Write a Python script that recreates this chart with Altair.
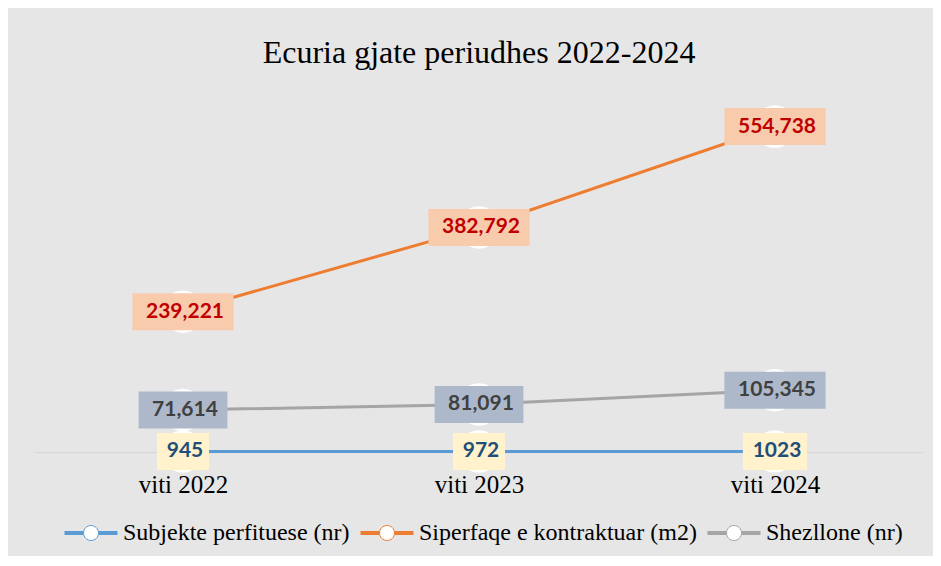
import altair as alt
import pandas as pd

years = ["viti 2022", "viti 2023", "viti 2024"]
series_names = ["Subjekte perfituese (nr)", "Siperfaqe e kontraktuar (m2)", "Shezllone (nr)"]
subjekte = [945, 972, 1023]
siperfaqe = [239221, 382792, 554738]
shezllone = [71614, 81091, 105345]
use_thousands = [False, True, True]

line_colors = ["#5b9bd5", "#ed7d31", "#a5a5a5"]
box_colors = ["#fff2cc", "#f8cbad", "#adb9ca"]
text_colors = ["#1f4e79", "#c00000", "#404040"]

rows = []
for name, vals, th in zip(series_names, [subjekte, siperfaqe, shezllone], use_thousands):
    for yr, v in zip(years, vals):
        rows.append({"year": yr, "series": name, "value": v,
                     "label": f"{v:,}" if th else str(v)})
df = pd.DataFrame(rows)

SERIF = "Liberation Serif"

x = alt.X("year:N", sort=years, scale=alt.Scale(type="point", padding=0.5),
          axis=alt.Axis(title=None, labelAngle=0, ticks=False, tickSize=0, labelPadding=40,
                        labelBaseline="alphabetic", labelFont=SERIF, labelFontSize=25,
                        labelColor="#000000", domainColor="#d9d9d9", domainWidth=1.5, grid=False))
y = alt.Y("value:Q", scale=alt.Scale(domain=[0, 600000]), axis=None)

# legend symbol: thick line (drawn as parallel hairlines) broken by a white circle marker
seg = ""
for off in (-0.0566, -0.0189, 0.0189, 0.0566):
    seg += f"M-1,{off}H-0.283M0.283,{off}H1"
circ = "M-0.283,0A0.283,0.283,0,1,0,0.283,0A0.283,0.283,0,1,0,-0.283,0Z"
legend_symbol = seg + circ

lines = alt.Chart(df).mark_line(strokeWidth=3).encode(
    x=x, y=y,
    color=alt.Color("series:N", scale=alt.Scale(domain=series_names, range=line_colors),
                    legend=alt.Legend(orient="none", legendX=29, legendY=406, direction="horizontal",
                                      title=None, symbolType=legend_symbol, symbolSize=2809,
                                      symbolStrokeWidth=1, symbolFillColor="#ffffff", symbolOpacity=1,
                                      labelFont=SERIF, labelFontSize=24, labelColor="#000000",
                                      labelOffset=5, columnPadding=8, padding=0, labelLimit=500)),
)

points = alt.Chart(df).mark_point(filled=True, size=1800, opacity=1, strokeWidth=0,
                                  shape="circle", color="#ffffff").encode(x=x, y=y)

boxes = []
texts = []
BOX_H = 37
for name, bc, tc, vals, th in zip(series_names, box_colors, text_colors,
                                   [subjekte, siperfaqe, shezllone], use_thousands):
    lens = sorted(set(len(f"{v:,}" if th else str(v)) for v in vals))
    for n in lens:
        w = 12.3 * n + 15
        path = f"M{-w/2:.1f},{-BOX_H/2:.1f}H{w/2:.1f}V{BOX_H/2:.1f}H{-w/2:.1f}Z"
        boxes.append(
            alt.Chart(df).transform_filter(
                f"datum.series == '{name}' && length(datum.label) == {n}"
            ).mark_point(shape=path, size=4, filled=True, fill=bc, opacity=1, strokeWidth=0).encode(x=x, y=y)
        )
    texts.append(
        alt.Chart(df).transform_filter(f"datum.series == '{name}'").mark_text(
            font="Lato", fontWeight="bold", fontSize=21, color=tc, dx=2, baseline="middle"
        ).encode(x=x, y=y, text="label:N")
    )

chart = alt.layer(lines, points, *boxes, *texts).properties(
    width=888, height=352,
    title=alt.TitleParams(text="Ecuria gjate periudhes 2022-2024", font=SERIF, fontSize=32,
                          fontWeight="normal", color="#000000", anchor="middle", frame="group",
                          baseline="alphabetic", offset=5),
    autosize=alt.AutoSizeParams(type="none"),
    padding={"left": 27, "top": 92, "right": 10, "bottom": 104},
    background="#e7e6e6",
).configure_view(stroke="transparent")

chart.save("out.html", embed_options={"renderer": "svg", "actions": False})
